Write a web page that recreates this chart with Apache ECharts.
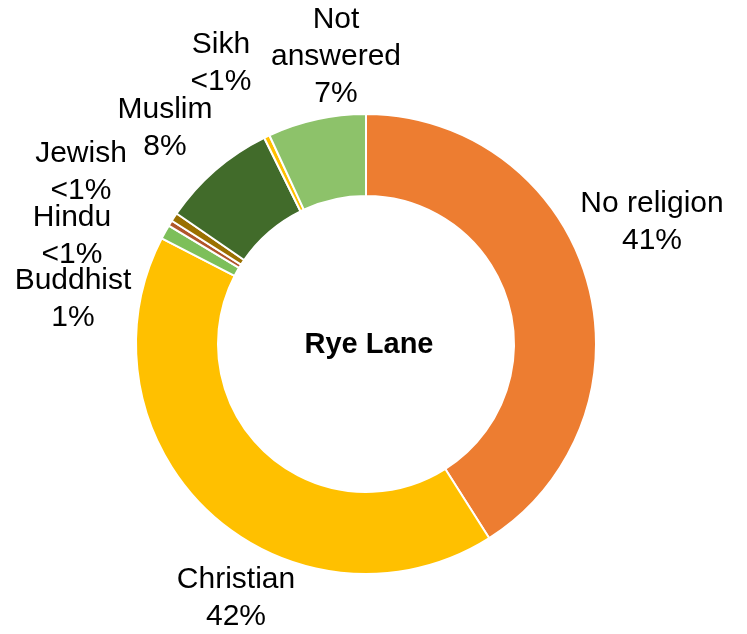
<!DOCTYPE html>
<html>
<head>
<meta charset="utf-8">
<script src="https://cdn.jsdelivr.net/npm/echarts@6/dist/echarts.min.js"></script>
<style>
html,body{margin:0;padding:0;background:#fff;}
#chart{width:747px;height:634px;}
</style>
</head>
<body>
<div id="chart"></div>
<script>
// Data (clockwise from 12 o'clock)
var categories = ["No religion", "Christian", "Buddhist", "Hindu", "Jewish", "Muslim", "Sikh", "Not answered"];
var labelNames = ["No religion", "Christian", "Buddhist", "Hindu", "Jewish", "Muslim", "Sikh", "Not\nanswered"];
var values = [41, 41.6, 1, 0.4, 0.6, 8.1, 0.4, 6.9];
var valueLabels = ["41%", "42%", "1%", "<1%", "<1%", "8%", "<1%", "7%"];
var colors = ["#ED7D31", "#FFC000", "#7DBF5A", "#B0562A", "#9A7000", "#416B2A", "#FFC000", "#8DC26A"];
var labelPos = [[652, 222], [236, 598], [73, 299], [72, 236], [81, 172], [165, 128], [221, 63], [336, 57]];

var chart = echarts.init(document.getElementById('chart'));
var data = categories.map(function (c, i) {
  return { name: c, value: values[i], itemStyle: { color: colors[i] } };
});
chart.setOption({
  animation: false,
  graphic: [{
    type: 'text',
    x: 369, y: 345,
    style: { text: 'Rye Lane', font: 'bold 29px "Liberation Sans", Arial, sans-serif', fill: '#000', align: 'center', verticalAlign: 'middle' }
  }],
  series: [{
    type: 'pie',
    center: [366, 344],
    radius: [148, 230],
    startAngle: 90,
    clockwise: true,
    avoidLabelOverlap: false,
    itemStyle: { borderColor: '#fff', borderWidth: 2 },
    label: {
      show: true,
      position: 'outside',
      formatter: function (p) { return labelNames[p.dataIndex] + '\n' + valueLabels[p.dataIndex]; },
      fontFamily: '"Liberation Sans", Arial, sans-serif',
      fontSize: 30,
      lineHeight: 37,
      color: '#000',
      align: 'center'
    },
    labelLine: { show: false },
    labelLayout: function (params) {
      var p = labelPos[params.dataIndex];
      return { x: p[0], y: p[1], align: 'center', verticalAlign: 'middle' };
    },
    data: data
  }]
});
</script>
</body>
</html>
